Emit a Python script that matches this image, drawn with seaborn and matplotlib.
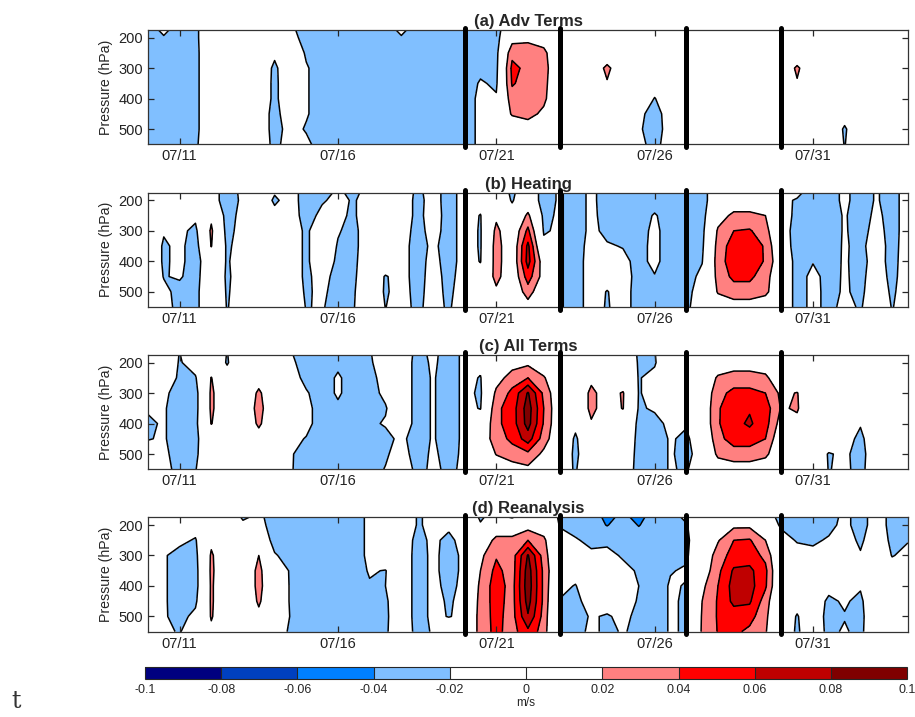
import numpy as np
import pandas as pd
import matplotlib
matplotlib.use("Agg")
from matplotlib import pyplot as plt
import matplotlib.dates as mdates
import seaborn as sns

# pressure levels (hPa) and 12-hourly times
pressure = [175, 200, 250, 300, 350, 400, 450, 500, 550]
times = pd.date_range("2014-07-10", "2014-08-03", freq="12h")

# vertical velocity, cm/s; one list per time, values top -> bottom
adv_terms = [
    [-3, -3, -3, -3, -3, -3, -3, -3, -3],
    [-1.5, -2.2, -3, -3, -3, -3, -3, -3, -3],
    [-3, -3, -3, -3, -3, -3, -3, -3, -3],
    [-2.5, -2.5, -2.6, -2.6, -2.6, -2.6, -2.6, -2.6, -2.4],
    [0, 0, 0, 0, 0, 0, 0, 0, 0],
    [0, 0, 0, 0, 0, 0, 0, 0, 0],
    [0, 0, 0, 0, 0, 0, 0, 0, 0],
    [0, 0, 0, 0, 0, 0, -0.5, -0.5, -0.5],
    [0, 0, -1.5, -2.5, -2.6, -2.6, -2.8, -2.8, -2.6],
    [-1.5, -1, 0, 0, 0, 0, -0.5, -1.2, -1],
    [-3, -3, -2.3, -1.8, -1.8, -1.8, -1.8, -2.2, -1.5],
    [-3, -3, -3, -3, -3, -3, -3, -3, -3],
    [-3, -3, -3, -3, -3, -3, -3, -3, -3],
    [-3, -3, -3, -3, -3, -3, -3, -3, -3],
    [-3, -3, -3, -3, -3, -3, -3, -3, -3],
    [-3, -3, -3, -3, -3, -3, -3, -3, -3],
    [-1.5, -2.2, -3, -3, -3, -3, -3, -3, -3],
    [-3, -3, -3, -3, -3, -3, -3, -3, -3],
    [-3, -3, -3, -3, -3, -3, -3, -3, -3],
    [-3, -3, -3, -3, -3, -3, -3, -3, -3],
    [-3, -3, -3, -3, -3, -3, -3, -3, -3],
    [-2.3, -2.5, -3, -2.5, -1.8, -1.5, -1.5, -1.5, -1.5],
    [-2.8, -2.8, -2.6, -2.5, -2.3, -1.8, 0, 0, 0],
    [0, 1, 3.5, 4.5, 4.2, 3.2, 2.2, 0.5, 0],
    [0, 1.5, 3, 3.5, 3.2, 3, 2.6, 1, 0],
    [0, 1, 2.5, 2.8, 2.6, 2.4, 1.6, 0.5, 0],
    [0, 0, 0, 0, 0, 0, 0, 0, 0],
    [0, 0, 0, 0, 0, 0, 0, 0, 0],
    [0, 0, 0, 0, 0, 0, 0, 0, 0],
    [0, 0, 0, 2.6, 1.8, 0, 0, 0, 0],
    [0, 0, 0, 0, 0, 0, 0, 0, 0],
    [0, 0, 0, 0, 0, 0, -1.5, -1.7, -1.5],
    [0, 0, 0, 0, -0.8, -2.1, -2.8, -3, -2.6],
    [0, 0, 0, 0, 0, -0.5, -1, -1, -1],
    [0, 0, 0, 0, 0, 0, 0, 0, 0],
    [0, 0, 0, 0, 0, 0, 0, 0, 0],
    [0, 0, 0, 0, 0, 0, 0, 0, 0],
    [0, 0, 0, 0, 0, 0, 0, 0, 0],
    [0, 0, 0, 0, 0, 0, 0, 0, 0],
    [0, 0, 0, 0, 0, 0, 0, 0, 0],
    [0, 0, 0, 0, 0, 0, 0, 0, 0],
    [0, 0, 0, 2.4, 1.8, 0, 0, 0, 0],
    [0, 0, 0, 0, 0, 0, 0, 0, 0],
    [0, 0, 0, 0, 0, 0, 0, 0, 0],
    [0, 0, 0, 0, 0, 0, -1, -2.3, -2.1],
    [0, 0, 0, 0, 0, 0, 0, 0, 0],
    [0, 0, 0, 0, 0, 0, 0, 0, 0],
    [0, 0, 0, 0, 0, 0, 0, 0, 0],
    [0, 0, 0, 0, 0, 0, 0, 0, 0],
]

heating = [
    [0, 0, 0, 0, 0, 0, 0, 0, 0],
    [0, 0, 0, -1.8, -2.3, -2.3, -2.1, -1.5, -1],
    [0, 0, 0, -1.5, -1.5, -1.5, -1.8, -2.6, -2.8],
    [0, 0, -1.5, -2.5, -3, -3, -2.8, -2.6, -2.6],
    [-1, -1, 1.5, 2.4, 2.1, 0, 0, 0, 0],
    [-3, -3, -3, -2.8, -2.4, -2.2, -2.3, -2.2, -2.1],
    [-1.5, -1.6, -1.2, -1, -1, -1, -1, -1, -1],
    [0, 0, 0, 0, 0, 0, 0, 0, 0],
    [-1.8, -2.4, -1.2, 0, 0, 0, 0, 0, 0],
    [-1, -1, -1, -0.5, -0.5, -0.5, -0.5, -0.5, -0.5],
    [-3, -3, -2.8, -2.5, -2.5, -2.5, -2.5, -2.3, -2.1],
    [-2.4, -2.2, -1.5, 0, 0, 0, -1, -1.5, -1.8],
    [-1.8, -1.5, -1.5, -1.8, -2.2, -2.6, -3, -3, -3],
    [-2.3, -2.2, -2.4, -2.8, -2.8, -2.6, -2.4, -2.2, -2.1],
    [-1.5, -1, 0, 0, 0, 0, 0, 0, 0],
    [0, 0, 0, 0, 0, 0, -2.2, -2.3, -2.05],
    [0, 0, 0, -0.5, -1, -1, -1, -1, -1],
    [-2.6, -2.8, -2.8, -3, -3, -3, -3, -2.8, -2.6],
    [-1, -1, -0.8, -1, -1.5, -1.2, -1, -1, -1],
    [-3, -3, -3, -3, -3, -3, -2.8, -2.6, -2.4],
    [-1, -1, -1, -1, -1, -1, -0.8, -0.5, 0],
    [-1.5, -1, -2.1, -2.2, -2.2, -2.1, -1, 0, 0],
    [0, 0, 1.5, 2.6, 3, 3, 2.8, 1.5, 0],
    [-2.5, -2.2, -1, 0, 0, 0, 0, 0, 0],
    [0, 0, 2.5, 4.5, 6.5, 6.8, 5, 3, 1],
    [-3, -3, -2.5, -2.2, -1.5, 0.5, 1, 0, 0],
    [-1.7, -1.7, -1.7, -1.7, -1.7, -1.7, -1.7, -1.7, -1.7],
    [-3, -3, -3, -3, -3, -3, -3, -3, -3],
    [-1.5, -1.5, -1.5, -1.5, -1.2, -1, -1, -1, -1],
    [-3, -3, -2.8, -2.5, -1.8, -1, -1, -2.1, -2.2],
    [-3, -3, -2.8, -2.5, -2.1, -1.5, -1, -1, -1],
    [-3, -3, -3, -2.8, -2.6, -2.6, -2.8, -3, -3],
    [-3, -3, -1.8, -1.5, -1.5, -1.5, -2.1, -3, -3],
    [-3, -3, -3, -3, -3, -3, -3, -3, -3],
    [-3, -3, -3, -3, -3, -2.8, -2.8, -2.6, -2.5],
    [-3, -3, -2.8, -2.6, -2.4, -2.1, -1.5, -1, -0.5],
    [0, 0, 1, 2.3, 2.8, 3, 2.7, 2.2, 0.5],
    [0, 0.5, 2.5, 4, 5, 5.2, 4.5, 3, 1],
    [0, 0.5, 2.5, 4.2, 5, 5.2, 4.5, 3, 1],
    [0, 0.5, 2, 2.8, 3.8, 3.8, 2.8, 2.5, 0.5],
    [-1, -1.5, -1.2, -1, -0.8, 0, 0, 0, 0],
    [-1.5, -2.2, -2.4, -2.8, -2.8, -2.8, -2.8, -2.8, -2.8],
    [-3, -3, -3, -2.8, -2.5, -2.1, -1.5, -1.5, -1.5],
    [-3, -3, -3, -3, -2.8, -2.7, -2.6, -2.5, -2.5],
    [-1.5, -1.5, -1.8, -1.8, -1.8, -1.8, -1.8, -1.8, -1.5],
    [-3, -3, -3, -2.8, -2.5, -2.6, -2.5, -2.4, -2.2],
    [-1.8, -1.8, -1.5, -1.2, -1, -1.2, -1, -0.8, -0.5],
    [-2.8, -2.8, -2.8, -2.8, -2.7, -2.6, -2.5, -2.3, -2.1],
    [-1, -1, -1, -1, -1, -1, -1, -1, -1],
]

all_terms = [
    [0, 0, 0, 0, -1.8, -2.3, -2.1, -1, 0],
    [0, 0, 0, -1.5, -1.8, -1.8, -1.8, -1.5, -1],
    [-2.1, -2.2, -2.5, -3, -3, -3, -3, -3, -3],
    [0, -1, -2.2, -2.8, -2.8, -2.6, -2.5, -2.4, -2.1],
    [0, 0, 2.1, 2.4, 2.4, 2.1, 0, 0, 0],
    [-2.1, -2.2, -1, 0, 0, 0, 0, 0, 0],
    [0, 0, 0, 0, 0, 0, 0, 0, 0],
    [0, 0, 1, 2.4, 2.8, 2.4, 1, 0, 0],
    [0, 0, 0, 0, 0, 0, 0, 0, 0],
    [-1.8, -1.5, -1, -0.5, -0.5, -1, -1.5, -1.8, -1.8],
    [-3, -3, -2.6, -1.8, -1.5, -1.5, -2.1, -2.8, -3],
    [-3, -3, -3, -3, -2.8, -2.8, -3, -3, -3],
    [-3, -2.5, -1.7, -1.7, -2.4, -3, -3, -3, -3],
    [-3, -3, -3, -3, -3, -3, -3, -3, -3],
    [-2.3, -2.5, -2.8, -2.8, -2.6, -2.4, -2.6, -2.8, -2.8],
    [0, 0, -1, -1.5, -2.2, -1.8, -2.6, -2.3, -1.9],
    [0, 0, 0, 0, 0, 0, -1.5, -1, 0],
    [-2.8, -3, -3, -3, -3, -3, -3, -3, -2.8],
    [-1.5, -1.6, -1.8, -1.8, -1.8, -1.8, -1.8, -1.6, -1.5],
    [-3, -3, -3, -3, -3, -3, -3, -2.8, -2.5],
    [-1.5, -1.5, -1.5, -1.5, -1.5, -1.5, -1.5, -1.5, -1.5],
    [0, -1.5, -2.1, -2.3, -2.1, -0.5, 0.5, 0, 0],
    [0, 0, 1, 2.5, 3.5, 3.5, 3, 2.1, 0.5],
    [0, 1, 3, 4.5, 5, 5, 4.5, 3, 1],
    [0, 1.5, 4, 8.2, 9, 8.8, 7, 3.5, 1.5],
    [0, 0.5, 2.2, 3.5, 4, 3.8, 3, 1.5, 0],
    [0, 0, 0, 0, 0, 0, 0, 0, -1],
    [0, 0, 0, 0, 0, -1.5, -2.3, -2.5, -2.2],
    [0, 0, 1.5, 2.5, 2.5, 1.8, 0, 0, 0],
    [0, 0, 0.5, 1, 1, 0.5, 0, 0, 0],
    [0, 0, 0, 2.2, 2.1, 0, 0, 0, 0],
    [-2.3, -2.2, -2.1, -2.1, -2.2, -2.4, -2.6, -2.8, -3],
    [-2.1, -2.2, -1.5, -1.5, -1.8, -2.5, -3, -3, -3],
    [0, 0, 0, 0, -1, -1.6, -1.8, -1.8, -1.8],
    [0, 0, 0, 0, 0, -1.8, -2.4, -2.6, -2.3],
    [0, 0, 0, 0, 0, 0, -0.5, -1, 0],
    [0, 0.5, 2.3, 3.3, 3.8, 3.8, 3.3, 2.5, 0.5],
    [0, 1, 2.8, 4.6, 5.2, 5.4, 5, 3, 1],
    [0, 1, 2.8, 4.6, 5.8, 6.3, 5, 3, 1],
    [0, 0.5, 2.5, 4, 5, 4.8, 4, 2.5, 0.5],
    [0, 0, 0, 1.5, 1.8, 1, 0, 0, 0],
    [0, 0, 0, 2.1, 2.2, 1.5, 0, 0, 0],
    [0, 0, 0, 0, 0, 0, 0, 0, 0],
    [0, 0, 0, 0, 0, 0, 0, -2.2, -2.1],
    [0, 0, 0, 0, 0, 0, -1, -1.5, -1.5],
    [0, 0, 0, 0, 0, -1.8, -2.6, -3, -2.8],
    [0, 0, 0, 0, 0, 0, 0, 0, 0],
    [0, 0, 0, 0, 0, 0, 0, 0, 0],
    [0, 0, 0, 0, 0, 0, 0, 0, 0],
]

reanalysis = [
    [0, 0, 0, 0, 0, 0, 0, 0, 0],
    [0, 0, 0, -1.8, -1.8, -1.8, -1.8, -1.8, -1.5],
    [0, 0, -1.5, -2.7, -2.7, -2.7, -2.7, -2.6, -2.2],
    [0, -1, -2.2, -2.6, -2.8, -2.8, -2.4, -1.5, 0],
    [0, 0, 1.5, 2.3, 2.4, 2.3, 2.3, 2.2, 1.5],
    [0, 0, 0, 0, 0, 0, 0, 0, 0],
    [-2.3, -1.5, 0, 0, 0, 0, 0, 0, 0],
    [-1.5, -1.2, 0, 2, 2.6, 2.6, 2.3, 1.5, 0],
    [-3, -3, -2.8, -1.8, -0.5, 0, 0, 0, -0.5],
    [-3, -3, -3, -2.8, -2.2, -2.2, -2.2, -2.1, -2.4],
    [-3, -3, -3, -3, -3, -3, -3, -3, -3],
    [-3, -3, -3, -3, -3, -3, -3, -3, -3],
    [-3, -3, -3, -3, -3, -3, -3, -3, -3],
    [-3, -3, -3, -3, -3, -3, -3, -3, -3],
    [-1.5, -1.5, -1.5, -1.5, -1.8, -2.2, -2.6, -3, -3],
    [0, 0, 0, 0, -2.1, -2, -2.4, -2.5, -2.4],
    [0, 0, 0, 0, 0, 0, 0, 0, 0],
    [-2.1, -2.1, -2.8, -3, -3, -3, -3, -3, -2.8],
    [-1.8, -1.8, -1.5, -1.5, -1.5, -1.5, -1.5, -1.5, -1.8],
    [0, -1.5, -2.6, -2.8, -2.8, -2.5, -2.2, -2.1, 0],
    [0, 0, -1, -1.5, -1.5, -1.5, -1.5, -1.5, -1.5],
    [-2.3, -1.8, 0.5, 1.5, 2, 2.5, 2.8, 3, 3],
    [-1, 0.5, 2.5, 3.8, 4.6, 5, 4.8, 4.6, 4.5],
    [-2.2, 0.5, 2.5, 3, 3, 3.2, 3.2, 3.2, 3.2],
    [0, 1, 4, 8.2, 9, 9.2, 8.8, 7.8, 5.5],
    [0, 0.5, 2.5, 3, 3.5, 3.5, 3.5, 3.2, 3],
    [-2.3, -2.1, -1.5, -1, -1, -1.5, -2.1, -2.2, -2.3],
    [-3, -2.8, -1.8, -1.5, -1.2, -2.1, -2.6, -2.8, -2.8],
    [-3, -3, -2.5, -1.6, -1, -0.5, -1, -1.8, -1.5],
    [-4.5, -4.1, -2.4, -1.5, -0.5, 0, -1, -2.2, -2.5],
    [-3.5, -3, -2.8, -2.2, -1.5, -1, -1, -1.5, -1.8],
    [-4.6, -4.1, -3, -2.8, -2.2, -2, -2.2, -2.5, -2.6],
    [-3, -3, -2.8, -2.6, -2.8, -3, -3, -3, -3],
    [-3, -3, -2.8, -2.3, -2.1, -1.8, -1.8, -1.8, -1.8],
    [-1.5, -2.2, -2.5, -2.3, -1.8, -2.1, -2.2, -2.2, -2.2],
    [0, 0, 0, 0, 0.5, 1.5, 2, 2.2, 2.3],
    [-1, 0, 1.8, 3, 3.5, 4, 4.2, 4.2, 4.1],
    [0, 1.5, 4, 4.8, 6.3, 6.8, 6.5, 5, 4.5],
    [0, 1.5, 4.2, 5, 6.5, 6.8, 6.3, 4.8, 3.5],
    [-1.5, -1, 2, 3.5, 4.5, 4.3, 3, 2.5, 2.2],
    [-2.3, -2.2, -1.5, -1, -1, -1, -1, -1, -1],
    [-2.8, -2.6, -2.1, -1.5, -1, -1, -1.5, -2.1, -2.2],
    [-3, -2.8, -2.3, -1.5, -1, -1, -1, -1, -1],
    [-2.8, -2.5, -1.8, -1, -1, -1.5, -2.3, -2.5, -2.4],
    [-1.5, -1.5, -1, -0.5, 0, -1, -1.8, -2.1, -1.8],
    [-2.8, -2.8, -2.4, -1.8, -1, -1.8, -2.4, -2.6, -2.5],
    [-1, -1, -0.5, 0, 0, 0, 0, 0, 0],
    [-2.6, -2.6, -2.5, -2.1, -1, 0, 0, 0, 0],
    [-2.5, -2.5, -2.1, -1.5, -1, 0, 0, 0, 0],
]

titles = ["(a) Adv Terms", "(b) Heating", "(c) All Terms", "(d) Reanalysis"]
panels = [adv_terms, heating, all_terms, reanalysis]
divider_dates = ["2014-07-20", "2014-07-23", "2014-07-27", "2014-07-30"]
tick_dates = ["2014-07-11", "2014-07-16", "2014-07-21", "2014-07-26", "2014-07-31"]

levels = [-0.1, -0.08, -0.06, -0.04, -0.02, 0, 0.02, 0.04, 0.06, 0.08, 0.1]
level_labels = ["-0.1", "-0.08", "-0.06", "-0.04", "-0.02", "0",
                "0.02", "0.04", "0.06", "0.08", "0.1"]
fill_colors = ["#00007f", "#0040bf", "#0080ff", "#80bfff", "#ffffff",
               "#ffffff", "#ff8080", "#ff0000", "#bf0000", "#7f0000"]

sns.set_theme(style="ticks")
plt.rcParams["font.family"] = ["Liberation Sans", "DejaVu Sans"]

fig = plt.figure(figsize=(9.15, 7.17), dpi=100)
ax_rects = [
    [0.1617, 0.7987, 0.8306, 0.1594],
    [0.1617, 0.5718, 0.8306, 0.1594],
    [0.1617, 0.3455, 0.8306, 0.1594],
    [0.1617, 0.1190, 0.8306, 0.1594],
]

X, Y = np.meshgrid(mdates.date2num(times), pressure)
line_levels = [-0.08, -0.06, -0.04, -0.02, 0.02, 0.04, 0.06, 0.08]

for rect, title, panel in zip(ax_rects, titles, panels):
    ax = fig.add_axes(rect)
    Z = np.array(panel, dtype=float).T * 0.01
    cf = ax.contourf(X, Y, Z, levels=levels, colors=fill_colors)
    ax.contour(X, Y, Z, levels=line_levels, colors="black",
               linewidths=1.1, linestyles="solid")
    for d in divider_dates:
        ax.axvline(mdates.date2num(pd.Timestamp(d)), ymin=-0.022, ymax=1.022,
                   color="black", lw=3.6, clip_on=False, zorder=5)
    ax.set_xlim(mdates.date2num(times[0]), mdates.date2num(times[-1]))
    ax.set_ylim(550, 175)
    ax.set_yticks([200, 300, 400, 500])
    ax.set_xticks([mdates.date2num(pd.Timestamp(d)) for d in tick_dates])
    ax.xaxis.set_major_formatter(mdates.DateFormatter("%m/%d"))
    ax.tick_params(direction="in", top=True, right=True, length=4.5,
                   width=0.9, labelsize=10.5, colors="#262626",
                   labelcolor="#222222")
    ax.set_axisbelow(False)
    for s in ax.spines.values():
        s.set_color("#333333")
        s.set_linewidth(0.9)
    ax.set_ylabel("Pressure (hPa)", fontsize=10.2, labelpad=4)
    ax.set_title(title, fontsize=12, fontweight="bold", pad=3)

cax = fig.add_axes([0.1585, 0.0525, 0.8330, 0.0175])
cb = fig.colorbar(cf, cax=cax, orientation="horizontal", ticks=levels,
                  drawedges=True)
cb.ax.set_xticklabels(level_labels)
cb.ax.tick_params(length=0, labelsize=9, pad=3)
cb.outline.set_linewidth(0.8)
cb.dividers.set_linewidth(0.8)
cb.set_label("m/s", fontsize=8.5, labelpad=1)

fig.text(0.012, 0.012, "t", family="DejaVu Serif", fontsize=17, color="#333333")

fig.savefig("out.png", dpi=100)
